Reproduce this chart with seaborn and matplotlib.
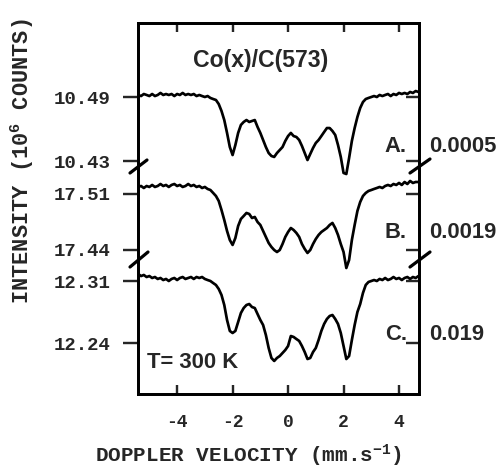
import numpy as np
import pandas as pd
import seaborn as sns
import matplotlib
import matplotlib.pyplot as plt
from matplotlib.lines import Line2D

plt.switch_backend('agg')

# doppler velocity channels (mm/s)
velocity = [
    -5.4, -5.3, -5.2, -5.1, -5.0, -4.9, -4.8, -4.7, -4.6, -4.5,
    -4.4, -4.3, -4.2, -4.1, -4.0, -3.9, -3.8, -3.7, -3.6, -3.5,
    -3.4, -3.3, -3.2, -3.1, -3.0, -2.9, -2.8, -2.7, -2.6, -2.5,
    -2.4, -2.3, -2.2, -2.1, -2.0, -1.9, -1.8, -1.7, -1.6, -1.5,
    -1.4, -1.3, -1.2, -1.1, -1.0, -0.9, -0.8, -0.7, -0.6, -0.5,
    -0.4, -0.3, -0.2, -0.1, 0.0, 0.1, 0.2, 0.3, 0.4, 0.5,
    0.6, 0.7, 0.8, 0.9, 1.0, 1.1, 1.2, 1.3, 1.4, 1.5,
    1.6, 1.7, 1.8, 1.9, 2.0, 2.1, 2.2, 2.3, 2.4, 2.5,
    2.6, 2.7, 2.8, 2.9, 3.0, 3.1, 3.2, 3.3, 3.4, 3.5,
    3.6, 3.7, 3.8, 3.9, 4.0, 4.1, 4.2, 4.3, 4.4, 4.5,
    4.6, 4.7,
]

# counts (10^6)
intensity_a = [
    10.4919, 10.4909, 10.4928, 10.4919, 10.4909, 10.4928, 10.4909, 10.4919, 10.4938, 10.4919,
    10.4928, 10.4919, 10.4928, 10.4909, 10.4928, 10.4919, 10.4938, 10.4919, 10.4928, 10.4919,
    10.4928, 10.4909, 10.4919, 10.4909, 10.4900, 10.4909, 10.4891, 10.4881, 10.4872, 10.4834,
    10.4769, 10.4684, 10.4563, 10.4431, 10.4356, 10.4450, 10.4563, 10.4638, 10.4666, 10.4684,
    10.4666, 10.4675, 10.4684, 10.4619, 10.4563, 10.4497, 10.4431, 10.4375, 10.4347, 10.4338,
    10.4375, 10.4403, 10.4431, 10.4488, 10.4534, 10.4563, 10.4534, 10.4525, 10.4497, 10.4441,
    10.4375, 10.4309, 10.4366, 10.4422, 10.4469, 10.4497, 10.4534, 10.4572, 10.4609, 10.4609,
    10.4581, 10.4544, 10.4450, 10.4338, 10.4188, 10.4178, 10.4328, 10.4488, 10.4609, 10.4713,
    10.4797, 10.4853, 10.4881, 10.4891, 10.4900, 10.4909, 10.4900, 10.4919, 10.4909, 10.4919,
    10.4928, 10.4909, 10.4928, 10.4919, 10.4938, 10.4928, 10.4938, 10.4928, 10.4947, 10.4938,
    10.4956, 10.4947,
]
intensity_b = [
    17.5188, 17.5200, 17.5175, 17.5200, 17.5188, 17.5213, 17.5188, 17.5200, 17.5225, 17.5200,
    17.5213, 17.5188, 17.5213, 17.5225, 17.5200, 17.5213, 17.5188, 17.5200, 17.5225, 17.5200,
    17.5213, 17.5188, 17.5200, 17.5175, 17.5188, 17.5163, 17.5150, 17.5113, 17.5075, 17.5013,
    17.4900, 17.4775, 17.4638, 17.4525, 17.4463, 17.4550, 17.4700, 17.4788, 17.4825, 17.4863,
    17.4850, 17.4800, 17.4813, 17.4750, 17.4713, 17.4638, 17.4563, 17.4488, 17.4438, 17.4400,
    17.4375, 17.4400, 17.4475, 17.4563, 17.4625, 17.4675, 17.4650, 17.4613, 17.4563, 17.4475,
    17.4413, 17.4363, 17.4400, 17.4475, 17.4538, 17.4588, 17.4625, 17.4650, 17.4675, 17.4713,
    17.4738, 17.4675, 17.4588, 17.4475, 17.4375, 17.4175, 17.4275, 17.4525, 17.4713, 17.4888,
    17.5000, 17.5075, 17.5113, 17.5138, 17.5150, 17.5163, 17.5175, 17.5188, 17.5175, 17.5200,
    17.5213, 17.5200, 17.5225, 17.5213, 17.5238, 17.5213, 17.5250, 17.5225, 17.5263, 17.5238,
    17.5250, 17.5250,
]
intensity_c = [
    12.3179, 12.3156, 12.3168, 12.3145, 12.3156, 12.3134, 12.3145, 12.3123, 12.3134, 12.3111,
    12.3123, 12.3100, 12.3123, 12.3134, 12.3111, 12.3134, 12.3145, 12.3123, 12.3134, 12.3145,
    12.3123, 12.3145, 12.3134, 12.3145, 12.3123, 12.3111, 12.3100, 12.3077, 12.3055, 12.3010,
    12.2942, 12.2829, 12.2660, 12.2536, 12.2513, 12.2536, 12.2637, 12.2739, 12.2795, 12.2829,
    12.2840, 12.2806, 12.2795, 12.2727, 12.2660, 12.2603, 12.2490, 12.2344, 12.2231, 12.2197,
    12.2231, 12.2253, 12.2287, 12.2321, 12.2366, 12.2479, 12.2468, 12.2445, 12.2423, 12.2366,
    12.2298, 12.2219, 12.2231, 12.2298, 12.2344, 12.2434, 12.2536, 12.2615, 12.2671, 12.2705,
    12.2716, 12.2671, 12.2615, 12.2513, 12.2366, 12.2219, 12.2253, 12.2434, 12.2603, 12.2750,
    12.2840, 12.2965, 12.3055, 12.3089, 12.3100, 12.3111, 12.3100, 12.3123, 12.3111, 12.3134,
    12.3111, 12.3123, 12.3145, 12.3123, 12.3134, 12.3111, 12.3134, 12.3145, 12.3123, 12.3145,
    12.3134, 12.3156,
]

samples = ['A.', 'B.', 'C.']
compositions = ['0.0005', '0.0019', '0.019']
tick_values = [[10.49, 10.43], [17.51, 17.44], [12.31, 12.24]]
tick_labels = [['10.49', '10.43'], ['17.51', '17.44'], ['12.31', '12.24']]
x_ticks = [-4, -2, 0, 2, 4]

# stacked axis runs 0..371; where each spectrum's two ticks sit on it
tick_slots = [(297, 233), (200, 144), (113, 51)]
label_slots = [247, 161, 59]

sns.set_style('ticks')
plt.rcParams['font.family'] = ['Liberation Sans', 'DejaVu Sans']
plt.rcParams['mathtext.fontset'] = 'custom'
plt.rcParams['mathtext.rm'] = 'Liberation Mono:bold'
plt.rcParams['mathtext.default'] = 'rm'

mono = {'family': 'Liberation Mono', 'weight': 'bold'}

frames = []
for name, counts, (t0, t1), (s0, s1) in zip(samples, [intensity_a, intensity_b, intensity_c],
                                            tick_values, tick_slots):
    counts = np.array(counts)
    frames.append(pd.DataFrame({
        'velocity': velocity,
        'pos': s0 + (counts - t0) * (s1 - s0) / (t1 - t0),
        'sample': name,
    }))
df = pd.concat(frames, ignore_index=True)

fig = plt.figure(figsize=(7, 6.5), dpi=72)
ax = fig.add_axes([138 / 504, 1 - 394 / 468, 281 / 504, 371 / 468])

sns.lineplot(data=df, x='velocity', y='pos', units='sample', estimator=None,
             sort=False, color='black', lw=2.7, ax=ax)

ax.set_xlim(-5.41, 4.72)
ax.set_ylim(0, 371)
ax.set_xlabel('')
ax.set_ylabel('')

ax.set_xticks(x_ticks)
ax.set_xticklabels([str(t) for t in x_ticks], fontdict=mono, fontsize=18)
ax.tick_params(axis='x', direction='in', top=True, length=9, width=2.4, pad=20)

ypos = [p for pair in tick_slots for p in pair]
ylab = [l for pair in tick_labels for l in pair]
ax.set_yticks(ypos)
ax.set_yticklabels(ylab, fontdict=mono, fontsize=19)
ax.tick_params(axis='y', direction='out', length=15, width=2.4, pad=12)

ax2 = ax.twinx()
ax2.set_ylim(ax.get_ylim())
ax2.set_yticks(ypos)
ax2.tick_params(axis='y', direction='in', length=13, width=2.4, labelright=False)

for a in (ax, ax2):
    for sp in a.spines.values():
        sp.set_linewidth(2.8)
        sp.set_color('black')

ax.text(0.438, 0.900, 'Co(x)/C(573)', transform=ax.transAxes, ha='center', va='center',
        fontsize=23, fontweight='bold')
ax.text(0.032, 0.085, 'T= 300 K', transform=ax.transAxes, ha='left', va='center',
        fontsize=22, fontweight='bold')

trans = ax.get_yaxis_transform()
for name, comp, slot in zip(samples, compositions, label_slots):
    ax.text(0.957, slot, name, transform=trans, ha='right', va='center', fontsize=22,
            fontweight='bold', clip_on=False)
    ax.text(1.037, slot, comp, transform=trans, ha='left', va='center', fontsize=22,
            fontweight='bold', clip_on=False)

# axis break marks
for (x0, y0, x1, y1) in [(130, 173, 147, 160), (130, 267, 148, 252),
                         (410, 173, 430, 159), (410, 267, 430, 252)]:
    fig.add_artist(Line2D([x0 / 504, x1 / 504], [1 - y0 / 468, 1 - y1 / 468],
                          transform=fig.transFigure, color='black', lw=3.2))

fig.text(22 / 504, 1 - 161 / 468, 'INTENSITY (10$^{6}$ COUNTS)', rotation=90,
         ha='center', va='center', fontdict=mono, fontsize=22)
fig.text(248 / 504, 1 - 456 / 468, 'DOPPLER VELOCITY (mm.s$^{-1}$)',
         ha='center', va='center', fontdict=mono, fontsize=21)

fig.savefig('out.png', dpi=72)
